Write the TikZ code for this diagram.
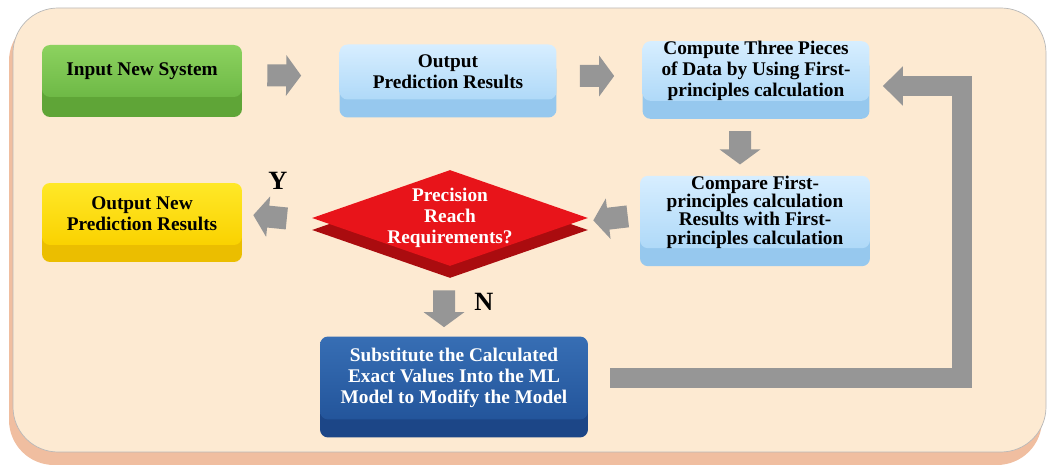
\documentclass[tikz,border=0pt]{standalone}
\usepackage{fontspec}
\setmainfont{Liberation Serif}
\usetikzlibrary{shapes.geometric,shadows,arrows.meta}

\definecolor{panelface}{RGB}{253,234,210}
\definecolor{panelslab}{RGB}{240,190,160}
\definecolor{grntop}{RGB}{140,210,95}
\definecolor{grnbot}{RGB}{110,185,70}
\definecolor{grnband}{RGB}{95,165,55}
\definecolor{bluetop}{RGB}{215,238,255}
\definecolor{bluebot}{RGB}{175,217,248}
\definecolor{blueband}{RGB}{150,200,238}
\definecolor{yeltop}{RGB}{255,232,40}
\definecolor{yelbot}{RGB}{250,210,0}
\definecolor{yelband}{RGB}{235,190,0}
\definecolor{redface}{RGB}{232,20,26}
\definecolor{redband}{RGB}{170,12,15}
\definecolor{navytop}{RGB}{55,110,180}
\definecolor{navybot}{RGB}{35,85,155}
\definecolor{navyband}{RGB}{28,70,135}
\definecolor{arrowgray}{RGB}{150,150,150}

\tikzset{
  face/.style={rounded corners=0.16cm, inner sep=0pt, align=center,
    font=\bfseries\fontsize{11}{12}\selectfont},
  greenbox/.style={face, top color=grntop, bottom color=grnbot,
    general shadow={shadow yshift=-0.4cm, fill=grnband}},
  bluebox/.style={face, top color=bluetop, bottom color=bluebot,
    general shadow={shadow yshift=-0.36cm, fill=blueband}},
  yellowbox/.style={face, top color=yeltop, bottom color=yelbot,
    general shadow={shadow yshift=-0.34cm, fill=yelband}},
  navybox/.style={face, top color=navytop, bottom color=navybot, text=white,
    general shadow={shadow yshift=-0.36cm, fill=navyband}},
  decision/.style={diamond, aspect=2.875, inner xsep=-10pt, inner ysep=-6pt, align=center,
    minimum width=5.52cm, minimum height=1.92cm, fill=redface, text=white,
    font=\bfseries\fontsize{11}{12}\selectfont,
    general shadow={shadow yshift=-0.24cm, fill=redband}},
  blockarrow/.style={line width=0.44cm, draw=arrowgray,
    -{Triangle[length=0.3cm,width=0.8cm]}},
  loopbar/.style={line width=0.4cm, draw=arrowgray, line join=miter,
    -{Triangle[length=0.4cm,width=0.76cm]}},
  branch/.style={font=\bfseries\fontsize{15}{15}\selectfont}
}

\begin{document}
\begin{tikzpicture}[x=0.02cm,y=-0.02cm]
    \useasboundingbox (0,0) rectangle (1049,472);
    \fill[panelslab, rounded corners=0.9cm] (9,16) rectangle (1042,465);
    \filldraw[fill=panelface, draw=gray!55, rounded corners=0.9cm] (13,8) rectangle (1046,452);

    \node[greenbox, minimum width=4cm, minimum height=1.04cm] (input) at (142,71) {Input New System};
    \node[bluebox, minimum width=4.34cm, minimum height=1.1cm] (output) at (448,72) {Output\\Prediction Results};
    \node[bluebox, minimum width=4.54cm, minimum height=1.16cm] (compute) at (756,71)
        {Compute Three Pieces\\of Data by Using First-\\principles calculation};
    \node[bluebox, minimum width=4.6cm, minimum height=1.44cm, font=\bfseries\fontsize{11}{10.4}\selectfont]
        (compare) at (755,212)
        {Compare First-\\principles calculation\\Results with First-\\principles calculation};
    \node[decision] (precision) at (450,218) {Precision\\Reach\\Requirements?};
    \node[yellowbox, minimum width=4cm, minimum height=1.24cm] (newres) at (142,214)
        {Output New\\Prediction Results};
    \node[navybox, minimum width=5.36cm, minimum height=1.66cm] (subst) at (454,378)
        {Substitute the Calculated\\Exact Values Into the ML\\Model to Modify the Model};

    \draw[blockarrow, shorten <=0.5cm, shorten >=0.76cm] ([yshift=-0.08cm]input.east) -- ([yshift=-0.08cm]output.west);
    \draw[blockarrow, shorten <=0.46cm, shorten >=0.56cm] ([yshift=-0.08cm]output.east) -- ([yshift=-0.1cm]compute.west);
    \draw[blockarrow, shorten <=0.6cm, shorten >=0.22cm] ([xshift=-0.32cm]compute.south) -- ([xshift=-0.3cm]compare.north);
    \draw[blockarrow, shorten <=0.24cm, shorten >=0.1cm] ([yshift=-0.06cm]compare.west) -- ([yshift=-0.06cm]precision.east);
    \draw[blockarrow, shorten <=0.5cm, shorten >=0.22cm] ([yshift=-0.06cm]precision.west) -- (newres.east);
    \draw[blockarrow, shorten <=0.48cm, shorten >=0.18cm] ([xshift=-0.12cm]precision.south) -- ([xshift=-0.2cm]subst.north);
    \draw[loopbar, shorten <=0.44cm, shorten >=0.26cm] (subst.east)
        -| ([xshift=1.84cm,yshift=-0.3cm]compute.east) -- ([yshift=-0.3cm]compute.east);

    \node[branch] (yes) at (278,181) {Y};
    \node[branch] (no) at (484,302) {N};
\end{tikzpicture}
\end{document}
